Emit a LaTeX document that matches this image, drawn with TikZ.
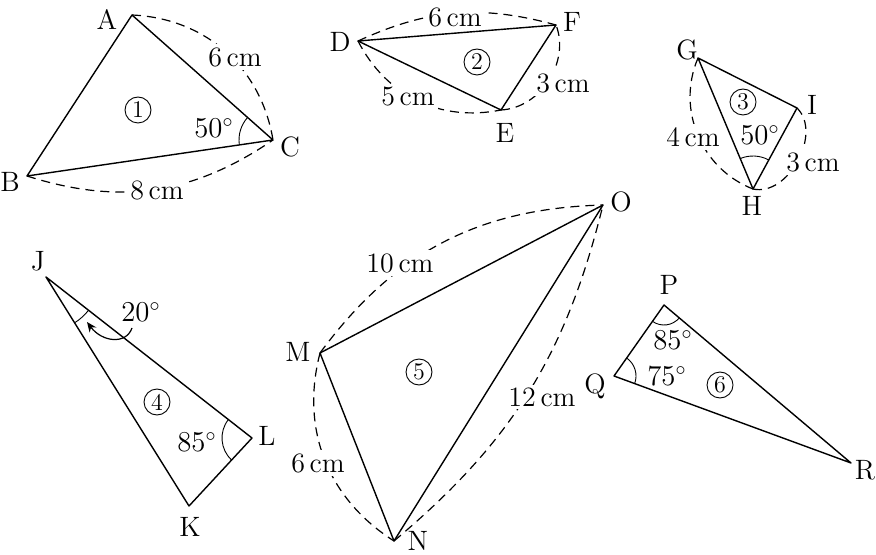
\documentclass[tikz,border=0pt]{standalone}
\usepackage{fontspec}
\usetikzlibrary{angles,arrows.meta}
\begin{document}
\begin{tikzpicture}[x=0.5pt,y=-0.5pt,
  side/.style={line width=0.7pt, line join=round},
  dsh/.style={line width=0.6pt, dash pattern=on 4.5pt off 3pt},
  ang/.style={draw, line width=0.45pt},
  lbl/.style={font=\fontsize{14}{16}\selectfont, inner sep=1pt},
  meas/.style={lbl, fill=white, inner sep=1.5pt},
  cnum/.style={circle, draw, line width=0.45pt, minimum size=13pt, inner sep=0pt, font=\fontsize{12}{14}\selectfont}]
\useasboundingbox (0,0) rectangle (876,555);

% ---------- triangle 1
\coordinate (A) at (132,15);
\coordinate (B) at (27,176);
\coordinate (C) at (273,140);
\draw[dsh] (A) to[bend left=39] (C);
\draw[dsh] (B) to[bend right=26] (C);
\draw[side] (A) -- (B) -- (C) -- cycle;
\pic[ang, angle radius=17pt] {angle=A--C--B};
\node[lbl] (lA) at (107,20) {A};
\node[lbl] (lB) at (10,182) {B};
\node[lbl] (lC) at (290,147) {C};
\node[meas] (mAC) at (235,57) {6\,cm};
\node[meas] (mBC) at (157,190) {8\,cm};
\node[cnum] (n1) at (138,110) {1};
\node[lbl] (aC) at (214,128) {$50^{\circ}$};

% ---------- triangle 2
\coordinate (D) at (358,41);
\coordinate (E) at (501,110);
\coordinate (F) at (556,25);
\draw[dsh] (D) to[bend left=20] (F);
\draw[dsh] (D) to[bend right=37] (E);
\draw[dsh] (E) to[bend right=54] (F);
\draw[side] (D) -- (E) -- (F) -- cycle;
\node[lbl] (lD) at (340,42) {D};
\node[lbl] (lE) at (505,133) {E};
\node[lbl] (lF) at (572,22) {F};
\node[meas] (mDF) at (455,17) {6\,cm};
\node[meas] (mDE) at (408,97) {5\,cm};
\node[meas] (mEF) at (563,83) {3\,cm};
\node[cnum] (n2) at (477,62) {2};

% ---------- triangle 3
\coordinate (G) at (698,58);
\coordinate (H) at (753,189);
\coordinate (I) at (797,108);
\draw[dsh] (G) to[bend right=46] (H);
\draw[dsh] (H) to[bend right=74] (I);
\draw[side] (G) -- (H) -- (I) -- cycle;
\pic[ang, angle radius=16.5pt] {angle=I--H--G};
\node[lbl] (lG) at (687,50) {G};
\node[lbl] (lH) at (752,206) {H};
\node[lbl] (lI) at (812,105) {I};
\node[meas] (mGH) at (693,137) {4\,cm};
\node[meas] (mHI) at (813,162) {3\,cm};
\node[cnum] (n3) at (743,102) {3};
\node[lbl] (aH) at (760,135) {$50^{\circ}$};

% ---------- triangle 4
\coordinate (J) at (46,277);
\coordinate (K) at (189,506);
\coordinate (L) at (252,438);
\draw[side] (J) -- (K) -- (L) -- cycle;
\pic[ang, angle radius=27pt] {angle=K--J--L};
\pic[ang, angle radius=15pt] {angle=J--L--K};
\node[lbl] (lJ) at (38,261) {J};
\node[lbl] (lK) at (190,527) {K};
\node[lbl] (lL) at (267,436) {L};
\node[lbl] (aJ) at (141,312) {$20^{\circ}$};
\node[cnum] (n4) at (157,402) {4};
\node[lbl] (aL) at (197,442) {$85^{\circ}$};
\coordinate (ars) at (132,328);
\coordinate (are) at (87,322);
\draw[line width=0.6pt, -{Stealth[length=5pt,width=4.2pt]}] (ars) .. controls (126,345) and (102,342) .. (are);

% ---------- triangle 5
\coordinate (M) at (320,353);
\coordinate (N) at (394,541);
\coordinate (O) at (603,205);
\draw[dsh] (M) to[bend left=26] (O);
\draw[dsh] (M) to[bend right=36] (N);
\draw[dsh] (N) to[bend right=18] (O);
\draw[side] (M) -- (N) -- (O) -- cycle;
\node[lbl] (lM) at (298,352) {M};
\node[lbl] (lN) at (418,541) {N};
\node[lbl] (lO) at (621,202) {O};
\node[meas] (mMO) at (400,263) {10\,cm};
\node[meas] (mMN) at (318,463) {6\,cm};
\node[meas] (mNO) at (542,397) {12\,cm};
\node[cnum] (n5) at (419,372) {5};

% ---------- triangle 6
\coordinate (P) at (664,305);
\coordinate (Q) at (614,376);
\coordinate (R) at (851,463);
\draw[side] (P) -- (Q) -- (R) -- cycle;
\pic[ang, angle radius=10pt] {angle=Q--P--R};
\pic[ang, angle radius=11pt] {angle=R--Q--P};
\node[lbl] (lP) at (669,285) {P};
\node[lbl] (lQ) at (595,386) {Q};
\node[lbl] (lR) at (865,470) {R};
\node[lbl, inner sep=0pt] (aP) at (673,340) {$85^{\circ}$};
\node[lbl, inner sep=0pt] (aQ) at (667,376) {$75^{\circ}$};
\node[cnum] (n6) at (720,385) {6};
\end{tikzpicture}
\end{document}
